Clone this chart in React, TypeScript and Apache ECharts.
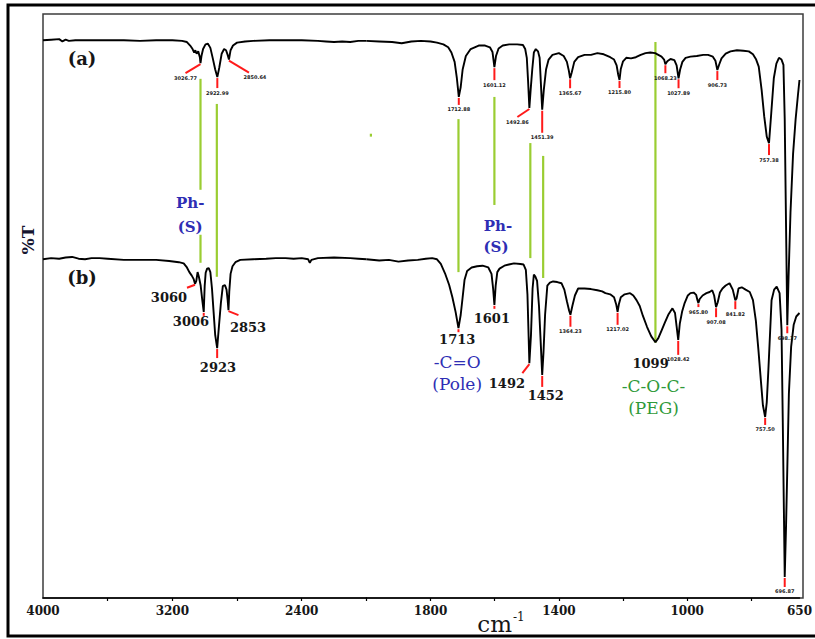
import React, { useEffect, useRef } from "react";
import * as echarts from "echarts";

// ---------- data: [wavenumber (cm-1), %T (stacked, arbitrary units)] ----------
const spectrumA: [number, number][] = [
  [4000, 95.5], [3950, 95.6], [3900, 95.7], [3880, 95.3], [3860, 95.6], [3840, 95.4], [3800, 95.5],
  [3700, 95.5], [3600, 95.5], [3500, 95.5], [3400, 95.4], [3300, 95.5], [3200, 95.5], [3140, 95.4],
  [3110, 95.2], [3090, 94.6], [3075, 94.0], [3065, 93.4], [3058, 93.8], [3050, 93.2], [3040, 93.6],
  [3030, 92.6], [3026, 91.6], [3020, 92.8], [3010, 94.0], [2995, 94.8], [2980, 94.9], [2965, 94.2],
  [2950, 92.4], [2935, 90.5], [2922, 89.2], [2910, 90.8], [2895, 93.2], [2880, 94.0], [2868, 93.8],
  [2858, 93.0], [2850, 92.2], [2840, 93.8], [2825, 94.6], [2800, 95.1], [2750, 95.3], [2700, 95.4],
  [2600, 95.5], [2500, 95.5], [2400, 95.5], [2300, 95.4], [2250, 95.3], [2200, 95.2], [2150, 95.3],
  [2100, 95.2], [2050, 95.4], [2000, 95.4], [1960, 95.3], [1920, 95.2], [1890, 95.0], [1860, 95.3],
  [1830, 95.4], [1800, 95.3], [1780, 95.1], [1760, 94.8], [1745, 94.3], [1735, 93.4], [1725, 91.8],
  [1718, 89.0], [1712, 85.8], [1706, 87.5], [1700, 90.5], [1690, 92.8], [1675, 94.0], [1650, 94.6],
  [1630, 94.6], [1615, 94.3], [1607, 93.5], [1601, 90.9], [1596, 92.8], [1588, 94.1], [1575, 94.6],
  [1555, 94.8], [1530, 94.8], [1512, 94.7], [1505, 94.0], [1500, 92.5], [1496, 88.5], [1492, 83.9],
  [1488, 87.0], [1483, 90.5], [1478, 93.4], [1472, 94.0], [1465, 93.6], [1460, 92.5], [1456, 88.0],
  [1452, 83.6], [1447, 87.0], [1440, 90.5], [1432, 92.2], [1420, 93.0], [1400, 93.3], [1385, 92.8],
  [1375, 91.8], [1369, 90.3], [1365, 89.0], [1360, 90.0], [1352, 91.8], [1340, 92.6], [1320, 93.0],
  [1300, 93.0], [1280, 93.3], [1260, 93.1], [1240, 92.6], [1228, 92.2], [1220, 91.2], [1215, 89.6],
  [1211, 88.7], [1207, 90.6], [1200, 91.9], [1190, 92.5], [1175, 92.4], [1160, 92.6], [1145, 93.0],
  [1130, 93.3], [1115, 93.4], [1100, 93.3], [1090, 93.0], [1080, 92.7], [1072, 92.2], [1068, 91.4],
  [1062, 91.9], [1052, 92.3], [1040, 92.1], [1033, 91.2], [1027, 89.0], [1022, 90.5], [1015, 91.8],
  [1005, 92.5], [990, 92.7], [970, 92.8], [950, 93.0], [935, 93.0], [920, 92.7], [912, 92.0],
  [906, 90.4], [900, 91.4], [893, 92.4], [880, 93.2], [865, 93.6], [845, 93.8], [825, 93.7],
  [808, 93.6], [795, 93.1], [785, 92.2], [777, 91.0], [768, 87.0], [760, 82.5], [752, 79.0],
  [745, 77.9], [738, 83.0], [730, 89.0], [722, 91.5], [714, 92.5], [706, 92.2], [700, 91.3],
  [696, 82.0], [691, 60.0], [688, 46.7], [684, 55.0], [678, 66.0], [670, 76.0], [662, 82.0],
  [655, 86.0], [650, 88.7],
];

const spectrumB: [number, number][] = [
  [4000, 58.0], [3950, 58.2], [3900, 58.1], [3860, 58.3], [3820, 58.4], [3780, 58.1], [3740, 58.0],
  [3700, 58.2], [3650, 58.2], [3600, 58.1], [3500, 57.9], [3400, 57.9], [3300, 57.9], [3220, 57.7],
  [3160, 57.5], [3130, 57.3], [3110, 56.6], [3095, 55.8], [3080, 55.2], [3068, 54.6], [3060, 53.8],
  [3052, 54.3], [3044, 55.8], [3036, 55.0], [3025, 53.5], [3015, 51.0], [3006, 49.0], [3000, 53.5],
  [2994, 55.7], [2985, 56.4], [2975, 56.5], [2965, 55.8], [2955, 53.0], [2945, 49.0], [2935, 45.0],
  [2923, 42.8], [2912, 46.5], [2900, 50.5], [2888, 53.4], [2875, 53.6], [2865, 52.8], [2858, 51.0],
  [2853, 49.3], [2848, 52.5], [2840, 55.5], [2828, 56.8], [2810, 57.5], [2780, 57.9], [2700, 58.0],
  [2620, 58.1], [2560, 58.2], [2500, 58.2], [2450, 58.1], [2400, 58.2], [2360, 58.0], [2350, 57.4],
  [2340, 57.9], [2300, 58.2], [2200, 58.3], [2100, 58.2], [2050, 58.1], [2000, 58.0], [1960, 57.8],
  [1930, 57.9], [1900, 57.6], [1870, 57.8], [1840, 57.9], [1815, 58.1], [1795, 58.2], [1780, 58.0],
  [1768, 57.2], [1755, 55.6], [1742, 53.6], [1732, 51.5], [1722, 49.0], [1713, 46.2], [1706, 48.5],
  [1700, 51.5], [1694, 54.5], [1686, 56.0], [1672, 56.6], [1655, 56.8], [1638, 56.9], [1620, 56.6],
  [1610, 55.5], [1605, 53.0], [1601, 50.2], [1597, 53.5], [1592, 55.8], [1585, 56.4], [1570, 56.9],
  [1556, 57.1], [1540, 57.3], [1520, 57.2], [1510, 57.1], [1503, 56.2], [1498, 52.0], [1492, 40.2],
  [1487, 45.0], [1482, 53.0], [1478, 55.4], [1473, 55.0], [1468, 54.3], [1462, 50.0], [1456, 43.0],
  [1452, 38.2], [1448, 42.0], [1443, 48.5], [1436, 53.5], [1428, 54.0], [1418, 54.2], [1405, 54.1],
  [1392, 53.9], [1383, 52.8], [1375, 50.8], [1368, 49.2], [1364, 48.5], [1358, 50.0], [1350, 51.8],
  [1340, 53.0], [1320, 53.0], [1300, 52.9], [1280, 52.7], [1265, 52.5], [1255, 52.2], [1240, 52.0],
  [1228, 51.5], [1221, 50.2], [1217, 49.0], [1213, 50.3], [1207, 51.5], [1195, 52.0], [1178, 52.2],
  [1168, 51.8], [1158, 51.0], [1148, 50.0], [1138, 48.3], [1125, 46.4], [1112, 44.8], [1099, 43.8],
  [1090, 44.5], [1080, 45.8], [1070, 47.1], [1058, 48.6], [1046, 49.6], [1038, 48.8], [1033, 46.5],
  [1028, 44.2], [1023, 47.0], [1016, 49.0], [1008, 50.5], [998, 51.8], [990, 52.2], [980, 52.3],
  [972, 51.9], [968, 51.0], [965, 50.5], [961, 51.2], [952, 51.8], [940, 52.2], [930, 52.4],
  [922, 52.7], [916, 51.8], [910, 49.8], [905, 50.6], [898, 52.3], [890, 53.0], [880, 53.5],
  [868, 53.9], [858, 52.8], [850, 51.0], [846, 51.3], [840, 53.0], [830, 53.2], [818, 52.8],
  [805, 52.4], [795, 51.0], [786, 47.5], [778, 42.5], [770, 37.0], [764, 33.0], [757, 31.0],
  [752, 33.5], [747, 39.0], [742, 45.0], [737, 51.0], [729, 52.8], [721, 53.3], [712, 52.2],
  [706, 46.0], [702, 30.0], [696, 3.6], [692, 12.0], [688, 22.0], [683, 35.0], [676, 43.0],
  [668, 46.8], [660, 48.2], [650, 48.8],
];

// peak picks of spectrum (a): [wavenumber, %T, printed value]
const peaksA: [number, number, string][] = [
  [3026, 91.6, "3026.77"], [2922, 89.2, "2922.99"], [2850, 92.2, "2850.64"],
  [1712, 85.8, "1712.88"], [1601, 90.9, "1601.12"], [1492, 83.9, "1492.86"],
  [1452, 83.6, "1451.39"], [1365, 89.0, "1365.67"], [1211, 88.7, "1215.80"],
  [1068, 91.4, "1068.23"], [1027, 89.0, "1027.89"], [906, 90.4, "906.73"],
  [745, 77.9, "757.38"], [688, 46.7, "698.37"],
];
// peak picks of spectrum (b) printed small
const peaksBSmall: [number, number, string][] = [
  [1364, 48.5, "1364.23"], [1217, 49.0, "1217.02"], [1028, 44.2, "1028.42"],
  [965, 50.5, "965.80"], [910, 49.8, "907.08"], [850, 51.0, "841.82"],
  [757, 31.0, "757.50"], [696, 3.6, "696.87"],
];
// peak picks of spectrum (b) printed large
const peaksBBig: [number, number][] = [
  [3060, 53.8], [3006, 49.0], [2923, 42.8], [2853, 49.3],
  [1713, 46.2], [1601, 50.2], [1492, 40.2], [1452, 38.2],
];

// green assignment lines: [wavenumber, upper %T, lower %T]
const guideLines: [number, number, number][] = [
  [3026, 88.9, 69.9], [3026, 62.2, 57.4], [2925, 84.6, 55.0], [1713, 82.0, 55.8],
  [1601, 85.8, 67.3], [1489, 77.9, 58.2], [1449, 75.7, 54.8], [1099, 95.2, 43.7],
  [1986, 79.5, 79.0],
];

// annotation texts: [text, wavenumber, %T]
const peakTexts: [string, number, number][] = [
  ["3060", 3221, 51.5], ["3006", 3085, 47.3], ["2923", 2918, 39.4], ["2853", 2732, 46.4],
  ["1713", 1717, 44.2], ["1601", 1609, 47.9], ["1492", 1562, 36.8], ["1452", 1441, 34.6],
  ["1099", 1114, 40.1],
];
const blueTexts: [string, number, number][] = [
  ["Ph-", 3090, 67.7], ["(S)", 3090, 63.5], ["Ph-", 1590, 63.7], ["(S)", 1596, 60.1],
  ["-C=O", 1717, 40.4], ["(Pole)", 1717, 36.6],
];
const greenTexts: [string, number, number][] = [
  ["-C-O-C-", 1105, 36.3], ["(PEG)", 1105, 32.5],
];

// x axis (split scale: 400 cm-1 per division above 2000, 200 below)
const W_MAX = 4000, W_SPLIT = 2000, W_MIN = 650;
const ticksHigh = [3600, 3200, 2800, 2400, 2000];
const ticksLow = [1800, 1600, 1400, 1200, 1000, 800];
const labelsHigh = [4000, 3200, 2400];
const labelsLow = [1800, 1400, 1000, 650];

// ---------- styling / layout ----------
const FRAME = { left: 43, top: 14, right: 803, bottom: 598 };
const SERIF = "'DejaVu Serif', 'Liberation Serif', serif";
const RED = "#ff1a1a";
const GREEN_LINE = "#9ACD32";
const BLUE = "#2e2eb4";
const GREEN_TXT = "#2f9a3a";

// leader offsets (px) for each red peak marker
const leadA: [number, number][] = [
  [-15, 10], [0, 11], [20, 13], [0, 8], [0, 13], [-12, 9], [0, 23], [0, 10], [0, 8], [0, 9],
  [0, 10], [0, 10], [0, 12], [0, 8],
];
const leadBSmall: [number, number][] = [[0, 12], [0, 13], [0, 15], [0, 4], [0, 10], [0, 9], [0, 8], [0, 10]];
const leadBBig: [number, number][] = [[-8, 4], [0, 4], [0, 10], [10, 5], [0, 4], [0, 4], [-7, 10], [0, 12]];

type Marker = { w: number; v: number; dx: number; dy: number; text: string | null };

export default function App() {
  const ref = useRef<HTMLDivElement>(null);

  useEffect(() => {
    if (!ref.current) return;
    const chart = echarts.init(ref.current, undefined, { renderer: "svg" });

    const units = (W_MAX - W_SPLIT) / 400 + (W_SPLIT - W_MIN) / 200;
    const plotW = FRAME.right - FRAME.left;
    const plotH = FRAME.bottom - FRAME.top;
    const splitX = FRAME.left + (plotW * ((W_MAX - W_SPLIT) / 400)) / units;

    const gridOf = (w: number) => (w >= W_SPLIT ? 0 : 1);

    const markers: Marker[] = [
      ...peaksA.map((p, i) => ({ w: p[0], v: p[1], dx: leadA[i][0], dy: leadA[i][1], text: p[2] })),
      ...peaksBSmall.map((p, i) => ({ w: p[0], v: p[1], dx: leadBSmall[i][0], dy: leadBSmall[i][1], text: p[2] })),
      ...peaksBBig.map((p, i) => ({ w: p[0], v: p[1], dx: leadBBig[i][0], dy: leadBBig[i][1], text: null })),
    ];

    type Txt = { t: string; w: number; v: number; fill: string; size: number; weight: string };
    const isPh = (t: string) => t === "Ph-" || t === "(S)";
    const texts: Txt[] = [
      ...peakTexts.map(([t, w, v]) => ({ t, w, v, fill: "#161616", size: 13, weight: "bold" })),
      ...blueTexts.map(([t, w, v]) => ({ t, w, v, fill: BLUE, size: isPh(t) ? 15 : 17, weight: isPh(t) ? "bold" : "normal" })),
      ...greenTexts.map(([t, w, v]) => ({ t, w, v, fill: GREEN_TXT, size: 17, weight: "normal" })),
    ];

    const series: any[] = [];
    for (let g = 0; g < 2; g++) {
      const inGrid = (w: number) => (g === 0 ? w >= W_SPLIT : w <= W_SPLIT);
      const gl = guideLines.filter((l) => gridOf(l[0]) === g);
      series.push({
        type: "custom", xAxisIndex: g, yAxisIndex: g, clip: false, silent: true, z: 1,
        data: gl.map((l) => [l[0], l[1], l[2]]),
        renderItem: (params: any, api: any) => {
          const l = gl[params.dataIndex];
          const a = api.coord([l[0], l[1]]);
          const b = api.coord([l[0], l[2]]);
          return { type: "line", shape: { x1: a[0], y1: a[1], x2: b[0], y2: b[1] }, style: { stroke: GREEN_LINE, lineWidth: 2.2 } };
        },
      });
      [spectrumA, spectrumB].forEach((s) => {
        series.push({
          type: "line", xAxisIndex: g, yAxisIndex: g, showSymbol: false, silent: true, z: 3,
          data: s.filter((p) => inGrid(p[0])),
          lineStyle: { color: "#000", width: 1.9 },
        });
      });
      const mk = markers.filter((m) => gridOf(m.w) === g);
      series.push({
        type: "custom", xAxisIndex: g, yAxisIndex: g, clip: false, silent: true, z: 4,
        data: mk.map((m) => [m.w, m.v]),
        renderItem: (params: any, api: any) => {
          const m = mk[params.dataIndex];
          const p = api.coord([m.w, m.v]);
          const ex = p[0] + m.dx, ey = p[1] + m.dy;
          const children: any[] = [
            { type: "line", shape: { x1: p[0], y1: p[1] + 1, x2: ex, y2: ey }, style: { stroke: RED, lineWidth: 2 } },
          ];
          if (m.text) {
            children.push({
              type: "text", x: ex + (m.dx > 0 ? 6 : 0), y: ey + 2,
              style: { text: m.text, fill: "#1a1a1a", fontSize: 5, fontWeight: "bold", fontFamily: "'DejaVu Sans', sans-serif", align: "center", verticalAlign: "top" },
            });
          }
          return { type: "group", children };
        },
      });
      const tx = texts.filter((t) => gridOf(t.w) === g);
      series.push({
        type: "custom", xAxisIndex: g, yAxisIndex: g, clip: false, silent: true, z: 5,
        data: tx.map((t) => [t.w, t.v]),
        renderItem: (params: any, api: any) => {
          const t = tx[params.dataIndex];
          const p = api.coord([t.w, t.v]);
          return {
            type: "text", x: p[0], y: p[1],
            style: { text: t.t, fill: t.fill, fontSize: t.size, fontWeight: t.weight, fontFamily: SERIF, align: "center", verticalAlign: "middle" },
          };
        },
      });
    }

    const axisLabel = {
      fontFamily: SERIF, fontWeight: "bold", fontSize: 12, color: "#161616", margin: 7,
      formatter: (v: number) => String(v),
    };
    const axisTick = { show: true, length: 3, lineStyle: { color: "#000", width: 1.2 } };

    chart.setOption({
      animation: false,
      backgroundColor: "#fff",
      grid: [
        { left: FRAME.left, top: FRAME.top, width: splitX - FRAME.left, height: plotH },
        { left: splitX, top: FRAME.top, width: FRAME.right - splitX, height: plotH },
      ],
      xAxis: [
        {
          type: "value", gridIndex: 0, min: W_SPLIT, max: W_MAX, inverse: true,
          axisLine: { show: true, onZero: false, lineStyle: { color: "#000", width: 1.5 } },
          axisTick: { ...axisTick, customValues: ticksHigh },
          axisLabel: { ...axisLabel, customValues: labelsHigh },
          splitLine: { show: false },
        },
        {
          type: "value", gridIndex: 1, min: W_MIN, max: W_SPLIT, inverse: true,
          axisLine: { show: true, onZero: false, lineStyle: { color: "#000", width: 1.5 } },
          axisTick: { ...axisTick, customValues: ticksLow },
          axisLabel: { ...axisLabel, customValues: labelsLow },
          splitLine: { show: false },
        },
      ],
      yAxis: [
        { type: "value", gridIndex: 0, min: 0, max: 100, show: false },
        { type: "value", gridIndex: 1, min: 0, max: 100, show: false },
      ],
      series,
      graphic: [
        { type: "rect", shape: { x: 8, y: 5, width: 840, height: 631 }, style: { fill: "none", stroke: "#000", lineWidth: 3 }, silent: true },
        { type: "rect", shape: { x: FRAME.left, y: FRAME.top, width: plotW, height: plotH }, style: { fill: "none", stroke: "#3c3c3c", lineWidth: 1.5 }, silent: true },
        { type: "text", x: 82, y: 58, style: { text: "(a)", fontSize: 18, fontWeight: "bold", fontFamily: SERIF, fill: "#161616", align: "center", verticalAlign: "middle" } },
        { type: "text", x: 82, y: 277, style: { text: "(b)", fontSize: 18, fontWeight: "bold", fontFamily: SERIF, fill: "#161616", align: "center", verticalAlign: "middle" } },
        { type: "text", x: 28, y: 240, rotation: Math.PI / 2, style: { text: "%T", fontSize: 17, fontWeight: "bold", fontFamily: SERIF, fill: "#161630", align: "center", verticalAlign: "middle" } },
        { type: "text", x: 512, y: 624, style: { text: "cm", fontSize: 23, fontFamily: SERIF, fill: "#161616", align: "right", verticalAlign: "middle" } },
        { type: "text", x: 513, y: 617, style: { text: "-1", fontSize: 12, fontFamily: SERIF, fill: "#161616", align: "left", verticalAlign: "middle" } },
      ],
    });

    return () => chart.dispose();
  }, []);

  return (
    <div
      ref={ref}
      style={{ position: "fixed", left: 0, top: 0, width: 815, height: 639, background: "#fff" }}
    />
  );
}
